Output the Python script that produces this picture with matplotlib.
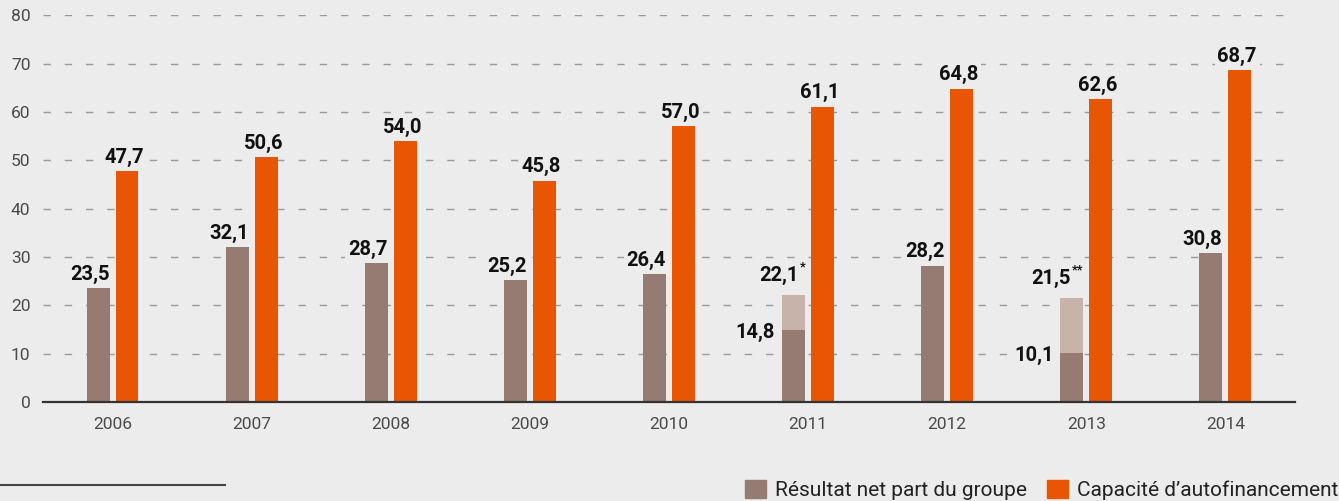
import matplotlib.pyplot as plt
from matplotlib.patches import Patch
from matplotlib.lines import Line2D
import numpy as np

years = ['2006', '2007', '2008', '2009', '2010', '2011', '2012', '2013', '2014']
net_result = [23.5, 32.1, 28.7, 25.2, 26.4, 14.8, 28.2, 10.1, 30.8]
# adjusted net result shown as a lighter stack on 2011 and 2013
net_adjusted = [None, None, None, None, None, 22.1, None, 21.5, None]
adjusted_marks = ['', '', '', '', '', '*', '', '**', '']
self_financing = [47.7, 50.6, 54.0, 45.8, 57.0, 61.1, 64.8, 62.6, 68.7]

BG = '#ececec'
BROWN = '#957b72'
LIGHT = '#c8b3ab'
ORANGE = '#e85604'

plt.rcParams['font.family'] = ['Roboto', 'DejaVu Sans']


def fmt(v):
    return f'{v:.1f}'.replace('.', ',')


fig = plt.figure(figsize=(13.39, 5.01), dpi=100, facecolor=BG)
ax = fig.add_axes([0.0321, 0.1976, 0.935, 0.772])
ax.set_facecolor(BG)

x = np.arange(len(years))
w = 0.165
off = 0.104

ax.bar(x - off, net_result, w, color=BROWN, zorder=3)
for i, adj in enumerate(net_adjusted):
    if adj is not None:
        ax.bar(i - off, adj - net_result[i], w, bottom=net_result[i], color=LIGHT, zorder=3)
ax.bar(x + off, self_financing, w, color=ORANGE, zorder=3)

box = dict(facecolor=BG, edgecolor='none', pad=2)
lbl = dict(fontsize=14.5, fontweight='bold', color='#111111', zorder=4)

for i, v in enumerate(self_financing):
    ax.annotate(fmt(v), (i + off, v), xytext=(-2, 6), textcoords='offset points',
                ha='center', va='baseline', bbox=box, **lbl)

for i, v in enumerate(net_result):
    right = i - off + w / 2
    adj = net_adjusted[i]
    if adj is None:
        ax.annotate(fmt(v), (right, v), xytext=(0, 6), textcoords='offset points',
                    ha='right', va='baseline', bbox=box, **lbl)
    else:
        left = i - off - w / 2
        ax.annotate(fmt(v), (left, v), xytext=(-5, 0), textcoords='offset points',
                    ha='right', va='center_baseline', bbox=box, **lbl)
        mark = adjusted_marks[i]
        shift = 4.5 * len(mark)
        ax.annotate(fmt(adj), (right, adj), xytext=(-shift, 10), textcoords='offset points',
                    ha='right', va='baseline', bbox=box, **lbl)
        ax.annotate(mark, (right, adj), xytext=(0, 17.5), textcoords='offset points',
                    ha='right', va='baseline', fontsize=9, fontweight='bold',
                    color='#111111', zorder=4)

ax.set_xlim(-0.5, 8.5)
ax.set_ylim(0, 80)
ax.set_yticks(range(0, 81, 10))
ax.set_xticks(x)
ax.set_xticklabels(years)
ax.tick_params(axis='both', length=0, labelsize=12.5, labelcolor='#4a4a4a')
ax.tick_params(axis='y', pad=9)
ax.tick_params(axis='x', pad=11)

ax.grid(axis='y', color='#9a9a9a', linewidth=1, linestyle=(0, (5.3, 10)), zorder=1)
ax.set_axisbelow(True)
for s in ['top', 'right', 'left']:
    ax.spines[s].set_visible(False)
ax.spines['bottom'].set_color('#333333')
ax.spines['bottom'].set_linewidth(1.6)
ax.spines['bottom'].set_zorder(5)

handles = [Patch(color=BROWN), Patch(color=ORANGE)]
fig.legend(handles, ['Résultat net part du groupe', 'Capacité d\u2019autofinancement'],
           loc='lower right', bbox_to_anchor=(1.0, 0.0), ncol=2, frameon=False,
           handlelength=1.0, handleheight=1.0, handletextpad=0.4, columnspacing=1.0,
           borderaxespad=0, borderpad=0.05, fontsize=15, labelcolor='#222222')

fig.add_artist(Line2D([0, 225 / 1339], [16 / 501, 16 / 501], color='#444444', linewidth=1.5))

plt.savefig('out.png', dpi=100, facecolor=BG)
